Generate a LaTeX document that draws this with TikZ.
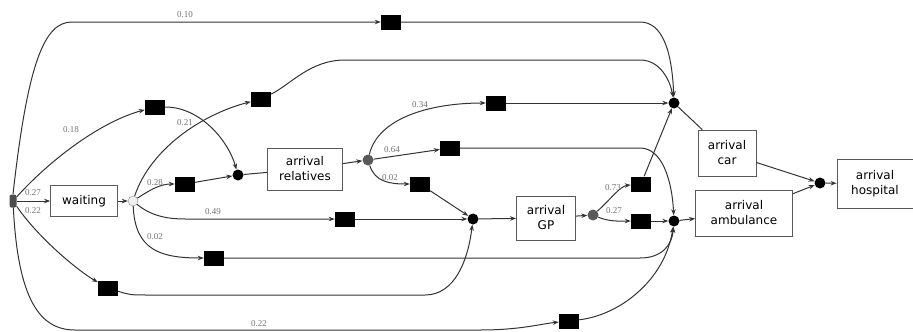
\documentclass[tikz,border=0pt]{standalone}
\usepackage{fontspec}
\setmainfont{DejaVu Sans}
\newfontfamily\probfont{Liberation Serif}
\usetikzlibrary{arrows.meta}

\tikzset{
  act/.style={draw=black!65, line width=0.8pt, align=center, inner sep=2pt, font=\fontsize{12}{15}\selectfont},
  silent/.style={fill=black, minimum width=20pt, minimum height=15pt, inner sep=0pt},
  place/.style={circle, fill=black, minimum size=11pt, inner sep=0pt},
  gplace/.style={circle, fill=black!65, minimum size=11pt, inner sep=0pt},
  wplace/.style={circle, draw=black!45, fill=black!6, minimum size=10pt, inner sep=0pt},
  startp/.style={rectangle, rounded corners=2pt, fill=black!70, minimum width=7pt, minimum height=13pt, inner sep=0pt},
  prob/.style={inner sep=0pt, text=black!55, font=\probfont\fontsize{9}{10}\selectfont},
  line/.style={line width=1pt, draw=black!80},
  arc/.style={line, -{Stealth[length=6pt,width=4.5pt]}},
}

\begin{document}
\begin{tikzpicture}[x=1pt, y=-1pt]
\useasboundingbox (0,0) rectangle (913,332);
%\draw[help lines, color=gray!30] (0,0) grid[step=50] (913,332);
\node [startp] (start) at (13,201) {};
\node [act, minimum width=67pt, minimum height=31pt] (waiting) at (84,201) {waiting};
\node [wplace] (p_wait) at (133,201) {};
\node [place] (p_rel) at (238,175) {};
\node [act, minimum width=75pt, minimum height=42pt] (relatives) at (305,169) {arrival\\relatives};
\node [gplace] (p_relout) at (368,160) {};
\node [place] (p_gp) at (473,219) {};
\node [act, minimum width=59pt, minimum height=44pt] (gp) at (546,218) {arrival\\GP};
\node [gplace] (p_gpout) at (593,215) {};
\node [place] (p_car) at (674,103) {};
\node [place] (p_amb) at (674,221) {};
\node [act, minimum width=58pt, minimum height=46pt] (car) at (727,153) {arrival\\car};
\node [act, minimum width=97pt, minimum height=46pt] (ambulance) at (744,213) {arrival\\ambulance};
\node [place] (p_hosp) at (820,183) {};
\node [act, minimum width=76pt, minimum height=49pt] (hospital) at (875,184) {arrival\\hospital};

% silent steps
\node [silent] (t_top) at (391,22) {};
\node [silent] (t_a) at (155,107) {};
\node [silent] (t_b) at (261,99) {};
\node [silent] (t_c) at (185,184) {};
\node [silent] (t_d) at (345,219) {};
\node [silent] (t_e) at (214,258) {};
\node [silent] (t_f) at (108,288) {};
\node [silent] (t_g) at (569,321) {};
\node [silent] (t_h) at (496,103) {};
\node [silent] (t_i) at (450,148) {};
\node [silent] (t_j) at (420,184) {};
\node [silent] (t_k) at (641,184) {};
\node [silent] (t_l) at (641,221) {};

\draw [arc] (start) -- (waiting);
\draw [arc] (waiting) -- (p_wait);
\draw [arc] (start.north) .. controls (28,60) and (45,22) .. (72,22) -- (t_top);
\draw [arc] (t_top) -- (640,22) .. controls (662,22) and (672,50) .. (p_car);
\draw [arc] (start) .. controls (50,160) and (100,122) .. (t_a);
\draw [arc] (t_a) .. controls (200,107) and (228,140) .. (p_rel);
\draw [arc] (p_wait) .. controls (150,150) and (200,115) .. (t_b);
\draw [arc] (t_b) .. controls (290,85) and (310,60) .. (345,60) -- (640,60) .. controls (660,60) and (670,80) .. (p_car);
\draw [arc] (p_wait) .. controls (150,190) and (160,184) .. (t_c);
\draw [arc] (t_c) -- (p_rel);
\draw [line] (p_rel) -- (relatives);
\draw [arc] (relatives) -- (p_relout);
\draw [arc] (p_relout) .. controls (378,118) and (430,103) .. (t_h);
\draw [arc] (t_h) -- (p_car);
\draw [arc] (p_relout) -- (t_i);
\draw [arc] (t_i) -- (640,148) .. controls (662,148) and (672,180) .. (p_amb);
\draw [arc] (p_relout) .. controls (375,182) and (390,184) .. (t_j);
\draw [arc] (t_j) -- (p_gp);
\draw [arc] (p_wait) .. controls (150,215) and (165,219) .. (185,219) -- (t_d);
\draw [arc] (t_d) -- (p_gp);
\draw [arc] (p_wait) .. controls (135,250) and (160,258) .. (t_e);
\draw [arc] (t_e) -- (640,258) .. controls (662,258) and (672,245) .. (p_amb);
\draw [arc] (start) .. controls (40,240) and (80,272) .. (t_f);
\draw [arc] (t_f) .. controls (130,295) .. (150,295) -- (425,295) .. controls (455,295) and (468,260) .. (p_gp);
\draw [arc] (start) .. controls (18,300) and (40,330) .. (75,330) -- (480,330) .. controls (520,330) and (540,324) .. (t_g);
\draw [arc] (t_g) .. controls (620,315) and (665,280) .. (p_amb);
\draw [arc] (p_gp) -- (gp);
\draw [arc] (gp) -- (p_gpout);
\draw [arc] (p_gpout) .. controls (610,200) and (620,186) .. (t_k);
\draw [arc] (p_gpout) .. controls (610,222) and (620,221) .. (t_l);
\draw [arc] (t_k) -- (p_car);
\draw [arc] (t_l) -- (p_amb);
\draw [line] (p_car) -- (car);
\draw [arc] (p_amb) -- (ambulance);
\draw [arc] (car) -- (p_hosp);
\draw [arc] (ambulance) -- (p_hosp);
\draw [arc] (p_hosp) -- (hospital);

\node [prob] (l_top) at (185,15) {0.10};
\node [prob] (l_a) at (71,130) {0.18};
\node [prob] (l_b) at (185,123) {0.21};
\node [prob] (l_w) at (33,193) {0.27};
\node [prob] (l_f) at (33,211) {0.22};
\node [prob] (l_c) at (155,183) {0.28};
\node [prob] (l_d) at (213,212) {0.49};
\node [prob] (l_e) at (155,237) {0.02};
\node [prob] (l_g) at (259,324) {0.22};
\node [prob] (l_h) at (420,105) {0.34};
\node [prob] (l_i) at (392,150) {0.64};
\node [prob] (l_j) at (390,178) {0.02};
\node [prob] (l_k) at (613,188) {0.73};
\node [prob] (l_l) at (614,211) {0.27};
\end{tikzpicture}
\end{document}
